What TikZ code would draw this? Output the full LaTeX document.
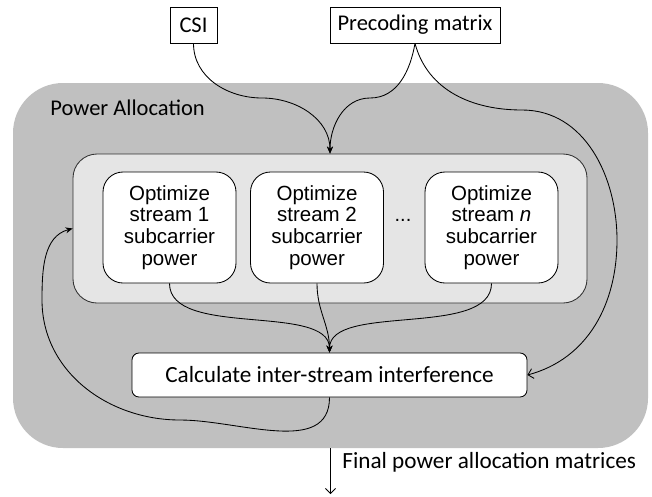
\documentclass[tikz,border=0pt]{standalone}
\usepackage{fontspec}
\setmainfont{Carlito}
\newfontfamily\arialf{Liberation Sans}
\usetikzlibrary{arrows.meta}
\definecolor{outerg}{RGB}{192,192,192}
\definecolor{innerg}{RGB}{229,229,229}
\definecolor{innerb}{RGB}{50,50,50}
\begin{document}
\begin{tikzpicture}[x=1pt,y=1pt, line width=0.85pt,
  lbl/.style={font=\fontsize{22.5}{26}\selectfont, inner sep=0pt},
  biglbl/.style={font=\fontsize{23.2}{27}\selectfont, inner sep=0pt},
  topbox/.style={draw, fill=white, inner sep=0pt, minimum height=36pt, font=\fontsize{22.5}{26}\selectfont},
  optbox/.style={draw, fill=white, rounded corners=20pt, minimum width=133pt, minimum height=111pt,
    align=center, inner sep=0pt, font=\arialf\fontsize{20.5}{21.7}\selectfont},
  calcbox/.style={draw, fill=white, rounded corners=7pt, minimum width=395pt, minimum height=44pt,
    inner sep=0pt, font=\fontsize{23.2}{27}\selectfont},
  filltip/.style={-{Stealth[length=7pt,width=6pt]}},
  opentip/.style={-{Straight Barb[length=5pt,width=10pt]}}
]
\useasboundingbox (0,0) rectangle (652,-496);
% containers
\node[fill=outerg, rounded corners=50pt, minimum width=635pt, minimum height=365pt, inner sep=0pt] (outer) at (330.5,-265.5) {};
\node[lbl, anchor=base west] (title) at (50,-115) {Power Allocation};
\node[draw=innerb, fill=innerg, rounded corners=24pt, minimum width=514pt, minimum height=149pt, inner sep=0pt] (inner) at (330,-228.5) {};
% inputs
\node[topbox, minimum width=47pt] (csi) at (193.5,-25) {CSI};
\node[topbox, minimum width=170pt] (prec) at (415,-25) {Precoding matrix};
% stream boxes
\node[optbox] (b1) at (169.5,-227.5) {Optimize\\stream 1\\subcarrier\\power};
\node[optbox] (b2) at (317,-227.5) {Optimize\\stream 2\\subcarrier\\power};
\node[optbox] (bn) at (491.5,-227.5) {Optimize\\stream {\itshape n}\\subcarrier\\power};
\node[font=\arialf\fontsize{20}{24}\selectfont, inner sep=0pt, anchor=base] (dots) at (403,-221) {...};
% calc
\node[calcbox] (calc) at (329.5,-375) {Calculate inter-stream interference};
% output
\coordinate (outend) at (330.5,-494);
\node[biglbl, anchor=west] (flabel) at (342,-462) {Final power allocation matrices};
% connectors
\draw[filltip] (csi.south) to[out=-90,in=180] (262,-98) to[out=0,in=90] (inner.north);
\draw[filltip] (prec.south) to[out=-100,in=0] (370,-98) to[out=180,in=90] (inner.north);
\draw[opentip] (prec.south) to[out=-75,in=180] (522,-110) to[out=0,in=90] (617,-240) to[out=-90,in=15] (calc.east);
\draw[filltip] (b1.south) .. controls +(0,-55) and +(0,50) .. (calc.north);
\draw[filltip] (bn.south) .. controls +(0,-55) and +(0,50) .. (calc.north);
\draw[filltip] (b2.south) to[out=-90,in=90] (calc.north);
\draw[filltip] (calc.south) to[out=-90,in=0] (180,-420) to[out=180,in=-90] (42,-300) to[out=90,in=195] (inner.west);
\draw[opentip] (outer.south) -- (outend);
\end{tikzpicture}
\end{document}
